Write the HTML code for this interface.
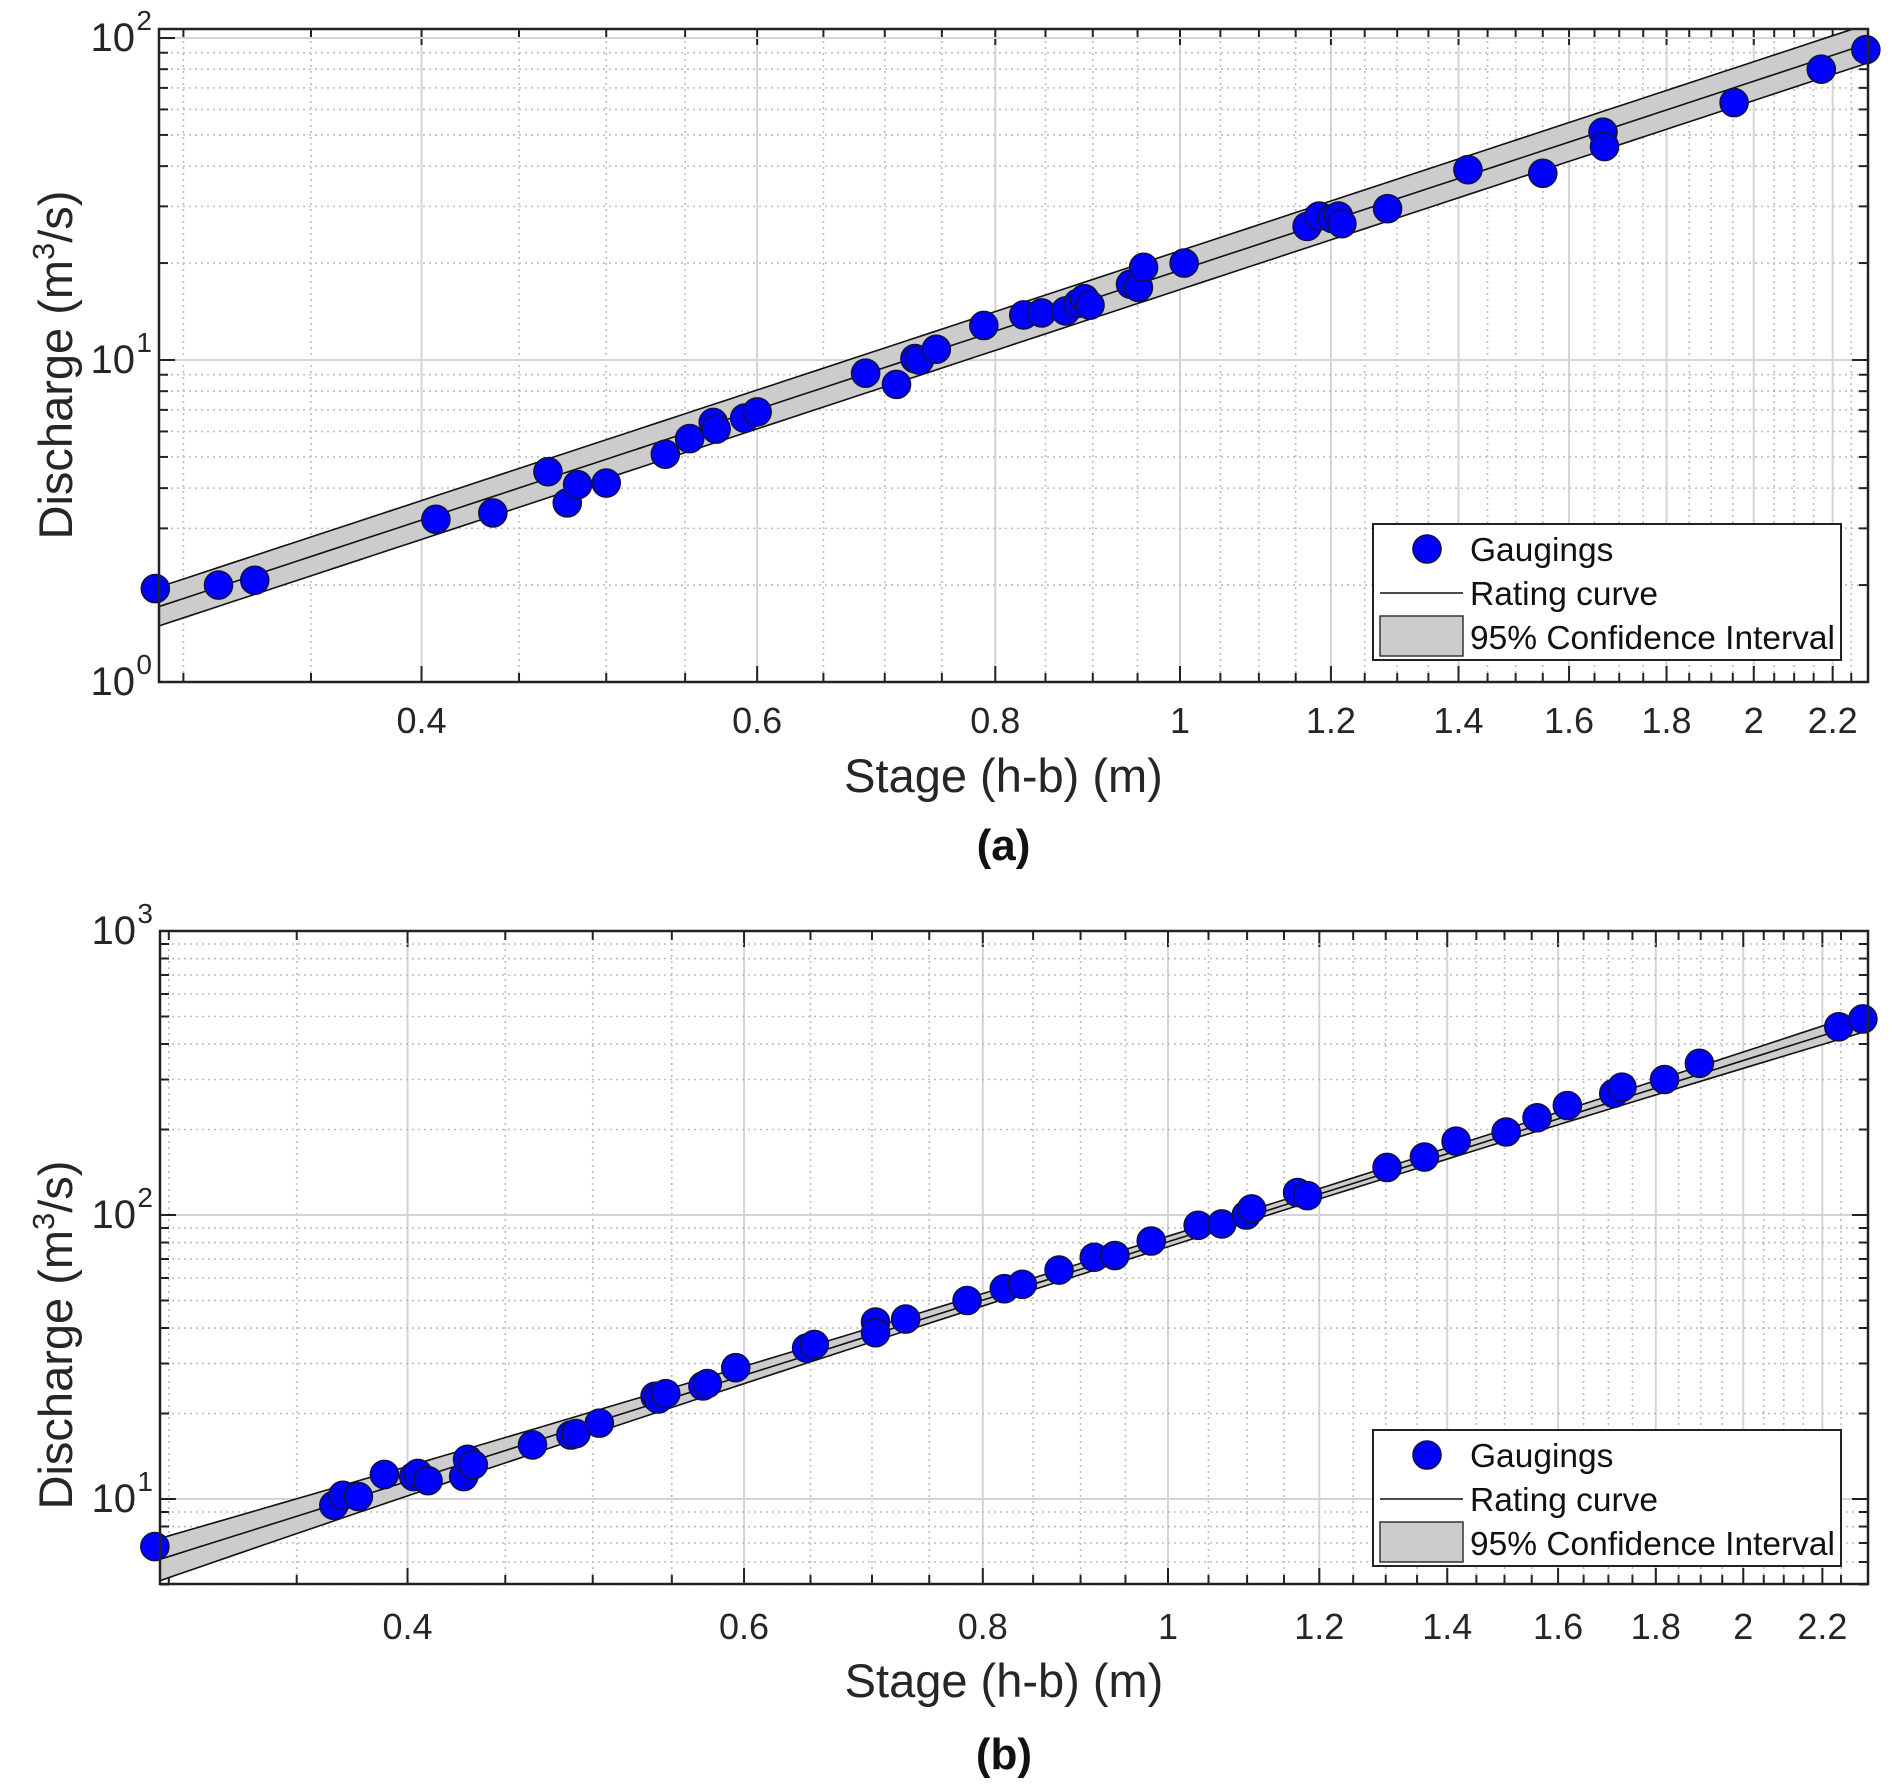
<!DOCTYPE html>
<html><head><meta charset="utf-8">
<style>
html,body{margin:0;padding:0;background:#fff;}
svg{display:block;font-family:"Liberation Sans",Arial,sans-serif;}
</style></head>
<body>
<svg id="fig" width="1892" height="1791" viewBox="0 0 1892 1791" xmlns="http://www.w3.org/2000/svg"></svg>
<script>
// ---- Panel (a) data ----
const stageA = [0.29,0.313,0.327,0.407,0.436,0.466,0.477,0.483,0.500,0.537,0.553,0.569,0.571,0.591,0.600,0.684,0.710,0.726,0.730,0.745,0.789,0.828,0.846,0.871,0.884,0.891,0.897,0.942,0.951,0.957,1.005,1.166,1.183,1.202,1.211,1.216,1.285,1.416,1.550,1.667,1.670,1.953,2.17,2.29];
const dischargeA = [1.95,2.0,2.07,3.2,3.35,4.5,3.6,4.1,4.15,5.1,5.7,6.4,6.1,6.6,6.9,9.1,8.4,10.1,10.0,10.8,12.8,13.8,14.0,14.2,15.0,15.5,14.8,17.2,16.8,19.4,20.0,26.0,28.0,27.5,28.0,26.5,29.5,39,38,51,46,63,80,92];
const curveA = {a:19.0, b:1.95};
const yTicksA = [1,10,100];
const yTickExpA = ["0","1","2"];
// ---- Panel (b) data ----
const stageB = [0.295,0.366,0.370,0.377,0.389,0.403,0.405,0.410,0.428,0.430,0.433,0.465,0.487,0.490,0.504,0.539,0.541,0.546,0.571,0.574,0.594,0.647,0.653,0.703,0.703,0.729,0.785,0.821,0.839,0.877,0.915,0.938,0.980,1.037,1.067,1.099,1.106,1.169,1.183,1.302,1.362,1.415,1.503,1.560,1.618,1.711,1.728,1.819,1.897,2.244,2.31];
const dischargeB = [6.8,9.5,10.3,10.2,12.2,12.0,12.3,11.6,12.0,13.8,13.2,15.5,16.8,17.0,18.5,23,22.5,23.5,25,25.5,29,34,35,42,38.5,43,50,55,57,64,71,72,81,92,93,100,105,120,117,147,160,182,196,220,243,268,282,300,342,460,490];
const curveB = {a:80.5, b:2.12};
const yTicksB = [10,100,1000];
const yTickExpB = ["1","2","3"];
// shared x tick labels
const xTickVals = [0.4,0.6,0.8,1,1.2,1.4,1.6,1.8,2,2.2];
const xTickLabels = ["0.4","0.6","0.8","1","1.2","1.4","1.6","1.8","2","2.2"];

const NS="http://www.w3.org/2000/svg";
const svg=document.getElementById('fig');
function mk(tag,attrs,parent){const e=document.createElementNS(NS,tag);for(const k in attrs)e.setAttribute(k,attrs[k]);(parent||svg).appendChild(e);return e;}

function panel(cfg){
  const g=mk('g',{});
  
  
  const L=cfg.L,R=cfg.R,T=cfg.T,B=cfg.B;
  const X=h=>cfg.x1+Math.log10(h)*cfg.xdec;
  const Y=q=>cfg.yRef-(Math.log10(q)-Math.log10(cfg.qRef))*cfg.ydec;
  const clip='clip'+cfg.id;
  const cp=mk('clipPath',{id:clip},g);mk('rect',{x:L,y:T,width:R-L,height:B-T},cp);
  for(let i=6;i<=45;i++){const h=i*0.05;const x=X(h);if(x<L||x>R)continue;
    const isMaj=xTickVals.some(v=>Math.abs(v-h)<1e-6);
    const ln=mk('line',{x1:x,x2:x,y1:T,y2:B,stroke:isMaj?'#d4d4d4':'#bdbdbd','stroke-width':isMaj?2:1.6,'stroke-dasharray':isMaj?'none':'2,4'},g);
    
    mk('line',{x1:x,x2:x,y1:B,y2:B-(isMaj?16:9),stroke:'#222','stroke-width':2},g);
    mk('line',{x1:x,x2:x,y1:T,y2:T+(isMaj?16:9),stroke:'#222','stroke-width':2},g);
  }
  const d0=Math.floor(Math.log10(cfg.qMin)), d1=Math.ceil(Math.log10(cfg.qMax));
  for(let d=d0;d<=d1;d++){for(let m=1;m<=9;m++){const q=m*Math.pow(10,d);const y=Y(q);if(y<T-1||y>B+1)continue;
    const maj=m===1;
    const ln=mk('line',{x1:L,x2:R,y1:y,y2:y,stroke:maj?'#d4d4d4':'#bdbdbd','stroke-width':maj?2:1.6,'stroke-dasharray':maj?'none':'2,4'},g);
    
    mk('line',{x1:L,x2:L+(maj?16:9),y1:y,y2:y,stroke:'#222','stroke-width':2},g);
    mk('line',{x1:R,x2:R-(maj?16:9),y1:y,y2:y,stroke:'#222','stroke-width':2},g);
  }}
  const cg=mk('g',{'clip-path':'url(#'+clip+')'},g);
  let up=[],lo=[],mid=[];
  for(let i=0;i<=80;i++){const lh=Math.log10(0.27)+i*(Math.log10(2.4)-Math.log10(0.27))/80;const h=Math.pow(10,lh);
    const q=cfg.curve.a*Math.pow(h,cfg.curve.b);
    const w=cfg.bandW(lh);
    mid.push(X(h)+','+Y(q));up.push(X(h)+','+Y(q*(1+w)));lo.push(X(h)+','+Y(q*(1-w*0.86)));}
  const band=mk('polygon',{points:up.concat(lo.slice().reverse()).join(' '),fill:'#cccccc',stroke:'none'},cg);
  
  mk('polyline',{points:up.join(' '),fill:'none',stroke:'#111','stroke-width':1.6},cg);
  mk('polyline',{points:lo.join(' '),fill:'none',stroke:'#111','stroke-width':1.6},cg);
  const rc=mk('polyline',{points:mid.join(' '),fill:'none',stroke:'#111','stroke-width':1.6},cg);
  
  for(let i=0;i<cfg.stage.length;i++){
    const c=mk('circle',{cx:X(cfg.stage[i]),cy:Y(cfg.q[i]),r:14,fill:'#0000ff',stroke:'#10104a','stroke-width':1.6},g);
    
  }
  const bx=mk('rect',{x:L,y:T,width:R-L,height:B-T,fill:'none',stroke:'#222','stroke-width':2.5},g);
  
  for(let i=0;i<xTickVals.length;i++){
    const t=mk('text',{x:X(xTickVals[i]),y:cfg.xLabY,'font-size':36,'text-anchor':'middle',fill:'#262626'},g);
    t.textContent=xTickLabels[i];
  }
  for(let i=0;i<cfg.yTicks.length;i++){const y=Y(cfg.yTicks[i]);
    const t=mk('text',{x:L-24,y:y+13,'font-size':40,'text-anchor':'end',fill:'#262626'},g);
    t.textContent='10';
    const s=mk('text',{x:L-7,y:y-8,'font-size':28,'text-anchor':'end',fill:'#262626'},g);
    s.textContent=cfg.yExp[i];
  }
  const xt=mk('text',{x:(L+R)/2-10,y:cfg.xTitleY,'font-size':47,'text-anchor':'middle',fill:'#262626'},g);
  xt.textContent='Stage (h-b) (m)';
  const yt=mk('text',{transform:'translate(72,'+cfg.yTitleY+') rotate(-90)','font-size':47,'text-anchor':'middle',fill:'#262626'},g);
  
  const t1=mk('tspan',{},yt);t1.textContent='Discharge (m';
  const t2=mk('tspan',{dy:-18,'font-size':31},yt);t2.textContent='3';
  const t3=mk('tspan',{dy:18},yt);t3.textContent='/s)';
  const cap=mk('text',{x:(L+R)/2-10,y:cfg.capY,'font-size':44,'font-weight':'bold','text-anchor':'middle',fill:'#111'},g);
  cap.textContent=cfg.caption;
  const lg=mk('g',{transform:'translate(0,'+cfg.legDy+')'},g);
  
  mk('rect',{x:1373,y:524,width:468,height:136,fill:'#fff',stroke:'#222','stroke-width':2},lg);
  mk('circle',{cx:1427,cy:549,r:14,fill:'#0000ff',stroke:'#10104a','stroke-width':1.6},lg);
  mk('line',{x1:1380,x2:1463,y1:593,y2:593,stroke:'#111','stroke-width':1.6},lg);
  mk('rect',{x:1380,y:616,width:83,height:40,fill:'#cccccc',stroke:'#333','stroke-width':1.5},lg);
  const labs=['Gaugings','Rating curve','95% Confidence Interval'],ly=[561,605,649];
  for(let i=0;i<3;i++){const t=mk('text',{x:1470,y:ly[i],'font-size':33.5,fill:'#111'},lg);t.textContent=labs[i];
    }
}

panel({id:'a',name:'panel-a',L:159,R:1868,T:29,B:682,x1:1180,xdec:1906,yRef:682,qRef:1,ydec:322,qMin:1,qMax:110,
  stage:stageA,q:dischargeA,curve:curveA,bandW:lh=>0.15,yTicks:yTicksA,yExp:yTickExpA,
  xLabY:733,xTitleY:792,yTitleY:365,capY:860,caption:'(a)',legDy:0});
panel({id:'b',name:'panel-b',L:160,R:1868,T:931,B:1584,x1:1168,xdec:1911,yRef:1499,qRef:10,ydec:284,qMin:5,qMax:1000,
  stage:stageB,q:dischargeB,curve:curveB,bandW:lh=>0.045+0.42*Math.pow(lh-0.05,2),yTicks:yTicksB,yExp:yTickExpB,
  xLabY:1639,xTitleY:1697,yTitleY:1335,capY:1769,caption:'(b)',legDy:906});
</script>
</body></html>
